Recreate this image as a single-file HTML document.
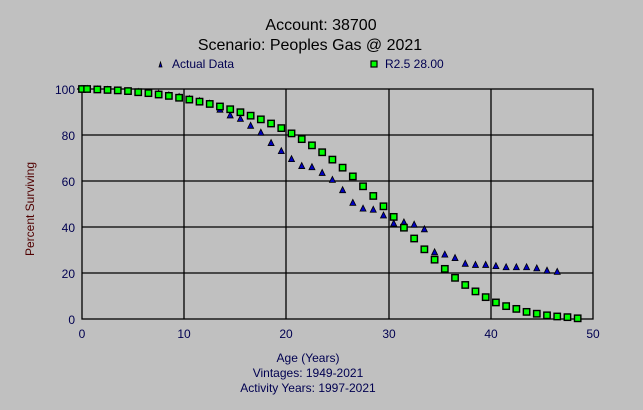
<!DOCTYPE html>
<html><head><style>
body{margin:0;background:#c0c0c0;}
svg{display:block;font-family:"Liberation Sans",Arial,sans-serif;}
</style></head><body>
<svg width="643" height="410" viewBox="0 0 643 410" xmlns="http://www.w3.org/2000/svg">
<rect width="643" height="410" fill="#c0c0c0"/>
<text x="321" y="30" font-size="16" text-anchor="middle" fill="#000">Account: 38700</text>
<text x="310" y="50" font-size="16" text-anchor="middle" fill="#000">Scenario: Peoples Gas @ 2021</text>
<polygon points="162,67 159,67 160.5,62" fill="#0000c0" stroke="#000" stroke-width="0.8"/>
<text x="172" y="68" font-size="12" fill="#000050">Actual Data</text>
<rect x="371" y="61" width="6" height="6" fill="#00ff00" stroke="#000" stroke-width="1.2"/>
<text x="385" y="68" font-size="12" fill="#000050">R2.5 28.00</text>
<g stroke="#000" stroke-width="1.3" fill="none">
<rect x="82" y="89" width="511" height="230"/>
<line x1="184" y1="89" x2="184" y2="319"/><line x1="286" y1="89" x2="286" y2="319"/>
<line x1="389" y1="89" x2="389" y2="319"/><line x1="491" y1="89" x2="491" y2="319"/>
<line x1="82" y1="135" x2="593" y2="135"/><line x1="82" y1="181" x2="593" y2="181"/>
<line x1="82" y1="227" x2="593" y2="227"/><line x1="82" y1="273" x2="593" y2="273"/>
<line x1="77" y1="89" x2="82" y2="89"/>
</g>
<g font-size="12" fill="#000050" text-anchor="end">
<text x="75" y="94">100</text><text x="75" y="140">80</text><text x="75" y="186">60</text>
<text x="75" y="232">40</text><text x="75" y="278">20</text><text x="75" y="324">0</text>
</g>
<g font-size="12" fill="#000050" text-anchor="middle">
<text x="82" y="338">0</text><text x="184" y="338">10</text><text x="286" y="338">20</text>
<text x="389" y="338">30</text><text x="491" y="338">40</text><text x="593" y="338">50</text>
</g>
<text transform="translate(34,209) rotate(-90)" font-size="12" fill="#500000" text-anchor="middle">Percent Surviving</text>
<g font-size="12" fill="#000050" text-anchor="middle">
<text x="308" y="362">Age (Years)</text>
<text x="308" y="377">Vintages: 1949-2021</text>
<text x="308" y="392">Activity Years: 1997-2021</text>
</g>
<g id="pts"></g>
</svg>
<script>
var g=document.getElementById('pts'),s="";
function X(a){return 82+a*10.22;}function Y(v){return 319-v*2.3;}
var act=[[0,100],[0.5,100],[1.5,99.8],[2.5,99.6],[3.5,99.3],[4.5,99],[5.5,98.7],[6.5,98.3],[7.5,97.9],[8.5,97.2],[9.5,96.5],[10.5,95.6],[11.5,94.7],[12.5,93.6],[13.5,91],[14.5,88.5],[15.5,87],[16.5,84],[17.5,81],[18.5,76.5],[19.5,73],[20.5,69.5],[21.5,66.5],[22.5,66],[23.5,63.5],[24.5,60.5],[25.5,56],[26.5,50.5],[27.5,48],[28.5,47.5],[29.5,45],[30.5,41.5],[31.5,42],[32.5,41],[33.5,39],[34.5,29],[35.5,28],[36.5,26.5],[37.5,24],[38.5,23.5],[39.5,23.5],[40.5,23],[41.5,22.5],[42.5,22.5],[43.5,22.5],[44.5,22],[45.5,21],[46.5,20.5]];
var gr=[[0,100],[0.5,100],[1.5,99.8],[2.5,99.6],[3.5,99.4],[4.5,99.1],[5.5,98.6],[6.5,98.2],[7.5,97.6],[8.5,97],[9.5,96.2],[10.5,95.4],[11.5,94.5],[12.5,93.5],[13.5,92.4],[14.5,91.2],[15.5,89.9],[16.5,88.4],[17.5,86.8],[18.5,85],[19.5,83],[20.5,80.7],[21.5,78.2],[22.5,75.5],[23.5,72.5],[24.5,69.3],[25.5,65.8],[26.5,62],[27.5,57.7],[28.5,53.5],[29.5,49],[30.5,44.4],[31.5,39.7],[32.5,35],[33.5,30.3],[34.5,25.8],[35.5,21.8],[36.5,17.9],[37.5,14.8],[38.5,12],[39.5,9.5],[40.5,7.2],[41.5,5.6],[42.5,4.4],[43.5,3.1],[44.5,2.3],[45.5,1.6],[46.5,1.1],[47.5,0.8],[48.5,0.3]];
act.forEach(function(p){var x=X(p[0]),y=Y(p[1]);s+='<polygon points="'+(x-3)+','+(y+2.5)+' '+(x+3)+','+(y+2.5)+' '+x+','+(y-3.5)+'" fill="#0000c0" stroke="#000" stroke-width="0.8"/>';});
gr.forEach(function(p){var x=X(p[0]),y=Y(p[1]);s+='<rect x="'+(x-3.2)+'" y="'+(y-3.2)+'" width="6.4" height="6.4" fill="#00ff00" stroke="#000" stroke-width="1.4"/>';});
g.innerHTML=s;
</script>
</body></html>
